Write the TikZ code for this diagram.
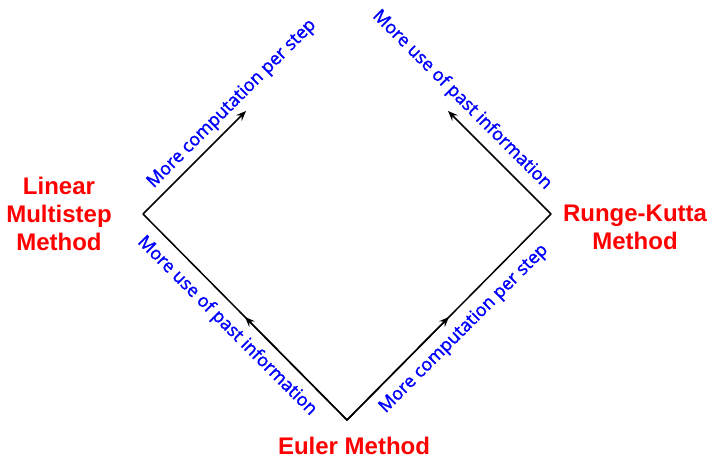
\documentclass[tikz,border=0pt]{standalone}
\usepackage{fontspec}
\newfontfamily\methodfont{Liberation Sans}
\newfontfamily\notefont[FakeBold=1.4]{Open Sans}
\usetikzlibrary{arrows.meta,calc}
\begin{document}
\begin{tikzpicture}[x=1pt,y=1pt,
    edge/.style={line width=1.5pt, black, line join=miter},
    tip/.style={-{Stealth[length=10pt,width=8pt,inset=3.5pt]}},
    method/.style={text=red, font=\methodfont\bfseries\fontsize{24}{28}\selectfont, align=center, inner sep=0pt},
    note/.style={text=blue, font=\notefont\fontsize{18}{20}\selectfont, inner sep=0pt}]
  \useasboundingbox (0,0) rectangle (711,458);

  % corners of the diamond and the free ends of the upper arrows
  \coordinate (E)  at (347,38);
  \coordinate (L)  at (143,244);
  \coordinate (R)  at (551,244);
  \coordinate (Lt) at (246,347);
  \coordinate (Rt) at (448,347);

  % lower edges, each with an arrow head at its midpoint
  \draw[edge] (L) -- (E) -- (R);
  \draw[edge,tip] (E) -- ($(E)!0.5!(L)$);
  \draw[edge,tip] (E) -- ($(E)!0.5!(R)$);

  % upper arrows
  \draw[edge,tip] (L) -- (Lt);
  \draw[edge,tip] (R) -- (Rt);

  % method names
  \node[method] (lm) at (59,244) {Linear\\Multistep\\Method};
  \node[method] (rk) at (635,231) {Runge-Kutta\\Method};
  \node[method,anchor=base] (eu) at (354,4) {Euler Method};

  % direction notes
  \node[note,rotate=45]  (n1) at (232,354) {More computation per step};
  \node[note,rotate=-45] (n2) at (462,358) {More use of past information};
  \node[note,rotate=-45] (n3) at (227,132) {More use of past information};
  \node[note,rotate=45]  (n4) at (464,129) {More computation per step};
\end{tikzpicture}
\end{document}
